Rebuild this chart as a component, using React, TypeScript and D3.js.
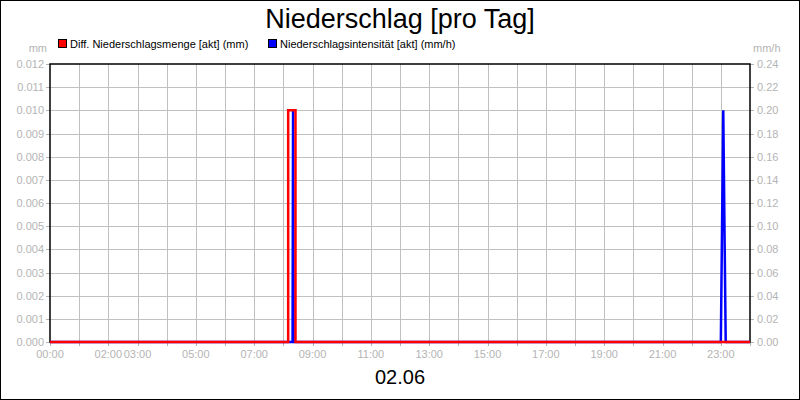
import React from 'react';
import * as d3 from 'd3';

// Diff. Niederschlagsmenge [akt] (mm)
const amountTimes = ['00:00', '08:10', '08:10', '08:25', '08:25', '24:00'];
const amountValues = [0, 0, 0.01, 0.01, 0, 0];

// Niederschlagsintensität [akt] (mm/h)
const intensityTimes = ['00:00', '08:19', '08:20', '08:21', '23:00', '23:05', '23:10', '24:00'];
const intensityValues = [0, 0, 0.2, 0, 0, 0.2, 0, 0];

const xTickLabels = ['00:00', '02:00', '03:00', '05:00', '07:00', '09:00', '11:00', '13:00', '15:00', '17:00', '19:00', '21:00', '23:00'];
const leftTicks = d3.range(0, 13).map((i) => i / 1000);
const rightTicks = d3.range(0, 13).map((i) => i * 0.02);

const title = 'Niederschlag [pro Tag]';
const dateLabel = '02.06';

const toMinutes = (t: string) => {
  const [h, m] = t.split(':').map(Number);
  return h * 60 + m;
};

const W = 800;
const H = 400;
const margin = { left: 50, right: 50, top: 64, bottom: 58 };
const font = '"Liberation Sans", Arial, sans-serif';
const grey = '#b4b4b4';

const App: React.FC = () => {
  const x = d3.scaleLinear().domain([0, 1440]).range([margin.left, W - margin.right]);
  const yL = d3.scaleLinear().domain([0, 0.012]).range([H - margin.bottom, margin.top]);
  const yR = d3.scaleLinear().domain([0, 0.24]).range([H - margin.bottom, margin.top]);

  const amount = amountTimes.map((t, i) => [toMinutes(t), amountValues[i]] as [number, number]);
  const intensity = intensityTimes.map((t, i) => [toMinutes(t), intensityValues[i]] as [number, number]);

  const amountLine = d3.line<[number, number]>().x((d) => x(d[0])).y((d) => yL(d[1]));
  const intensityLine = d3.line<[number, number]>().x((d) => x(d[0])).y((d) => yR(d[1]));

  const hours = d3.range(0, 25);
  const y0 = yL(0);
  const top = yL(0.012);

  return (
    <svg width={W} height={H} style={{ position: 'absolute', left: 0, top: 0, background: '#fff' }} fontFamily={font}>
      <rect x={0.5} y={0.5} width={W - 1} height={H - 1} fill="#fff" stroke="#000" />

      <text x={W / 2} y={28} textAnchor="middle" fontSize={27} fill="#000">{title}</text>

      {/* legend */}
      <rect x={58.5} y={39.5} width={8} height={8} fill="#ff0000" stroke="#000" strokeWidth={1} />
      <text x={70} y={48} fontSize={11} fill="#000">Diff. Niederschlagsmenge [akt] (mm)</text>
      <rect x={268.5} y={39.5} width={8} height={8} fill="#0000ff" stroke="#000" strokeWidth={1} />
      <text x={280} y={48} fontSize={11} fill="#000">Niederschlagsintensität [akt] (mm/h)</text>

      <text x={47} y={52} textAnchor="end" fontSize={11} fill={grey}>mm</text>
      <text x={753} y={52} fontSize={11} fill={grey}>mm/h</text>

      {/* grid */}
      {hours.slice(1, 24).map((h) => (
        <line key={`gx${h}`} x1={Math.round(x(h * 60)) + 0.5} x2={Math.round(x(h * 60)) + 0.5} y1={top} y2={y0} stroke="#c0c0c0" />
      ))}
      {leftTicks.slice(1, 12).map((v) => (
        <line key={`gy${v}`} x1={x(0)} x2={x(1440)} y1={Math.round(yL(v)) + 0.5} y2={Math.round(yL(v)) + 0.5} stroke="#c0c0c0" />
      ))}

      {/* tick marks */}
      {hours.map((h) => (
        <line key={`tx${h}`} x1={Math.round(x(h * 60)) + 0.5} x2={Math.round(x(h * 60)) + 0.5} y1={y0} y2={y0 + 4} stroke={grey} />
      ))}
      {leftTicks.map((v) => (
        <line key={`tl${v}`} x1={x(0) - 4} x2={x(0)} y1={Math.round(yL(v)) + 0.5} y2={Math.round(yL(v)) + 0.5} stroke={grey} />
      ))}
      {rightTicks.map((v) => (
        <line key={`tr${v}`} x1={x(1440)} x2={x(1440) + 4} y1={Math.round(yR(v)) + 0.5} y2={Math.round(yR(v)) + 0.5} stroke={grey} />
      ))}

      {/* tick labels */}
      {xTickLabels.map((t) => (
        <text key={`lx${t}`} x={x(toMinutes(t))} y={358} textAnchor="middle" fontSize={11} fill={grey}>{t}</text>
      ))}
      {leftTicks.map((v) => (
        <text key={`ll${v}`} x={44} y={yL(v) + 4} textAnchor="end" fontSize={11} fill={grey}>{v.toFixed(3)}</text>
      ))}
      {rightTicks.map((v) => (
        <text key={`lr${v}`} x={757} y={yR(v) + 4} fontSize={11} fill={grey}>{v.toFixed(2)}</text>
      ))}

      {/* frame */}
      <rect x={x(0)} y={top} width={x(1440) - x(0)} height={y0 - top} fill="none" stroke="#000" strokeWidth={1.5} />

      <path d={intensityLine(intensity) || ''} fill="none" stroke="#0000ff" strokeWidth={2.5} />
      <path d={amountLine(amount) || ''} fill="none" stroke="#ff0000" strokeWidth={2.5} />

      <text x={W / 2} y={384} textAnchor="middle" fontSize={20} fill="#000">{dateLabel}</text>
    </svg>
  );
};

export default App;
